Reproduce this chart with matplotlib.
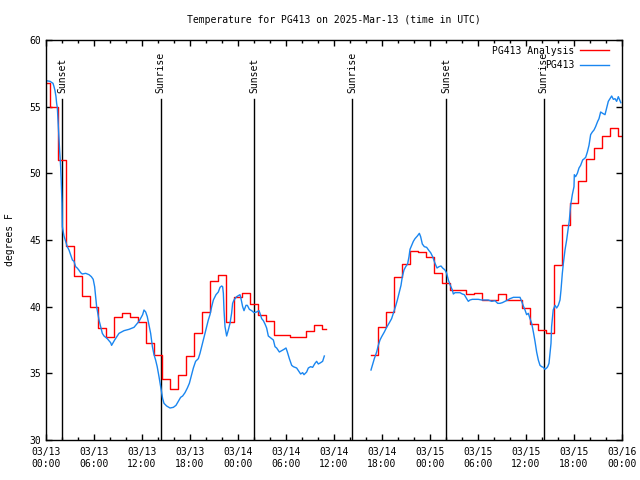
import matplotlib
matplotlib.use("Agg")
import matplotlib.pyplot as plt
import numpy as np

nan = np.nan

# ---- data (hours since 2025-03-13 00:00 UTC) ----
red_hours = list(range(0, 36)) + [35.1, 40.2] + list(range(41, 73))
red_temps = [56.75, 55.0, 51.0, 44.55, 42.3, 40.8, 40.0, 38.4, 37.75, 39.2,
             39.5, 39.2, 38.85, 37.25, 36.35, 34.55, 33.8, 34.85, 36.3, 38.0,
             39.6, 41.9, 42.35, 38.85, 40.7, 41.0, 40.2, 39.4, 38.9, 37.85,
             37.9, 37.75, 37.75, 38.2, 38.6, 38.35,
             nan, nan,
             36.4, 38.45, 39.6, 42.2, 43.2, 44.15, 44.1, 43.7, 42.55, 41.8,
             41.25, 41.25, 40.95, 41.05, 40.5, 40.5, 40.95, 40.5, 40.5, 39.9,
             38.7, 38.25, 38.0, 43.1, 46.1, 47.8, 49.4, 51.05, 51.9, 52.8,
             53.4, 52.8]

obs_hours = [0.0, 0.5, 0.875, 1.0, 1.125, 1.25, 1.33, 1.42, 1.5, 1.625,
             1.7, 1.83, 1.9, 2.0, 2.04, 2.25, 2.46, 2.66, 2.875, 3.08,
             3.3, 3.5, 3.7, 3.9, 4.1, 4.33, 4.54, 4.96, 5.375, 5.67,
             5.9, 6.08, 6.2, 6.33, 6.5, 6.625, 6.83, 7.04, 7.25, 7.66,
             8.08, 8.2, 8.58, 9.125, 9.75, 10.375, 11.0, 11.625, 12.08, 12.25,
             12.46, 12.66, 12.875, 13.08, 13.3, 13.5, 13.7, 13.9, 14.125, 14.33,
             14.45, 14.58, 14.75, 15.08, 15.5, 15.92, 16.25, 16.54, 16.83, 17.08,
             17.375, 17.67, 17.92, 18.2, 18.42, 18.7, 19.04, 19.25, 19.46, 19.67,
             19.875, 20.08, 20.29, 20.5, 20.71, 20.92, 21.25, 21.54, 21.75, 21.96,
             22.08, 22.17, 22.25, 22.375, 22.58, 22.79, 23.0, 23.2, 23.33, 23.5,
             23.83, 24.25, 24.375, 24.58, 24.75, 25.0, 25.17, 25.42, 25.71, 26.0,
             26.33, 26.625, 26.75, 26.96, 27.17, 27.375, 27.58, 27.79, 28.0, 28.42,
             28.625, 28.83, 29.17, 29.46, 29.75, 30.0, 30.17, 30.42, 30.71, 30.92,
             31.33, 31.67, 31.83, 32.08, 32.25, 32.58, 32.79, 33.08, 33.33, 33.625,
             33.83, 34.04, 34.33, 34.58, 34.79,
             37.0,
             40.625, 40.79, 41.04, 41.33, 41.54, 41.75, 41.96, 42.29, 42.58, 42.875,
             43.2, 43.42, 43.71, 43.92, 44.125, 44.375, 44.54, 44.75, 44.96, 45.2,
             45.375, 45.5, 45.71, 45.92, 46.125, 46.42, 46.67, 46.83, 47.04, 47.29,
             47.58, 47.875, 48.08, 48.33, 48.625, 48.875, 49.125, 49.375, 49.58, 49.875,
             50.08, 50.29, 50.54, 50.79, 50.92, 51.125, 51.75, 52.04, 52.29, 52.58,
             52.79, 53.0, 53.29, 54.04, 54.46, 55.29, 55.71, 56.125, 56.46, 56.75,
             57.04, 57.375, 57.71, 58.0, 58.42, 58.96, 59.25, 59.46, 59.67, 59.875,
             60.08, 60.29, 60.5, 60.71, 60.92, 61.125, 61.33, 61.54, 61.75, 61.96,
             62.17, 62.375, 62.58, 62.71, 62.875, 63.0, 63.125, 63.2, 63.4, 63.625,
             63.83, 64.04, 64.25, 64.375, 64.54, 64.67, 64.875, 65.08, 65.29, 65.42,
             65.58, 65.79, 66.0, 66.04, 66.2, 66.42, 66.625, 66.83, 67.08, 67.29,
             67.46, 67.67, 67.875, 68.08, 68.29, 68.5, 68.7, 68.96, 69.125, 69.33,
             69.58, 69.875, 70.08, 70.29, 70.5, 70.71, 70.92, 71.125, 71.33, 71.54,
             71.75, 71.85]
obs_temps = [56.95, 56.9, 56.75, 56.5, 56.2, 55.75, 55.25, 54.9, 54.0, 52.75,
             51.75, 50.5, 49.5, 47.75, 46.0, 45.3, 44.9, 44.5, 44.25, 43.9,
             43.5, 43.4, 43.0, 42.9, 42.75, 42.55, 42.45, 42.5, 42.4, 42.25,
             42.05, 41.5, 40.75, 40.0, 39.4, 39.0, 38.5, 38.0, 37.8, 37.6,
             37.3, 37.1, 37.5, 38.0, 38.2, 38.3, 38.45, 38.9, 39.4, 39.75,
             39.6, 39.25, 38.6, 38.0, 37.0, 36.4, 36.0, 35.5, 34.75, 34.0,
             33.6, 33.1, 32.75, 32.55, 32.4, 32.45, 32.6, 32.9, 33.2, 33.3,
             33.55, 33.9, 34.25, 34.9, 35.4, 35.9, 36.1, 36.5, 37.0, 37.5,
             38.0, 38.5, 39.0, 39.4, 40.0, 40.5, 40.9, 41.1, 41.45, 41.55,
             41.5, 41.0, 39.75, 38.5, 37.8, 38.25, 38.75, 39.5, 40.25, 40.5,
             40.75, 40.9, 40.6, 40.0, 39.7, 40.1, 40.1, 39.8, 39.7, 39.55,
             39.6, 39.7, 39.5, 39.1, 38.95, 38.7, 38.4, 37.8, 37.7, 37.5,
             37.0, 36.9, 36.6, 36.7, 36.8, 36.9, 36.6, 36.1, 35.6, 35.5,
             35.4, 35.1, 34.95, 35.05, 34.9, 35.1, 35.4, 35.5, 35.45, 35.75,
             35.9, 35.7, 35.8, 35.9, 36.3,
             nan,
             35.25, 35.6, 36.1, 36.6, 37.1, 37.5, 37.75, 38.1, 38.45, 38.75,
             39.1, 39.5, 40.05, 40.5, 41.0, 41.6, 42.25, 42.75, 43.0, 43.2,
             43.75, 44.3, 44.6, 44.9, 45.1, 45.3, 45.5, 45.25, 44.7, 44.5,
             44.45, 44.2, 44.05, 43.75, 43.25, 42.9, 43.0, 43.05, 42.9, 42.75,
             42.5, 42.0, 41.6, 41.25, 40.95, 41.05, 41.05, 40.95, 40.9, 40.6,
             40.4, 40.5, 40.55, 40.55, 40.5, 40.5, 40.4, 40.45, 40.25, 40.25,
             40.3, 40.4, 40.5, 40.6, 40.7, 40.7, 40.7, 40.4, 40.05, 39.75,
             39.4, 39.5, 39.1, 38.75, 38.1, 37.4, 36.6, 36.0, 35.6, 35.5,
             35.45, 35.3, 35.4, 35.5, 35.75, 36.5, 37.25, 38.5, 39.75, 40.1,
             39.9, 40.1, 40.5, 41.25, 42.5, 43.25, 44.25, 45.0, 45.9, 46.5,
             47.6, 48.4, 49.0, 49.9, 49.75, 50.0, 50.4, 50.6, 51.0, 51.1,
             51.2, 51.6, 52.1, 52.9, 53.1, 53.25, 53.5, 53.9, 54.1, 54.6,
             54.5, 54.4, 54.9, 55.4, 55.6, 55.8, 55.55, 55.6, 55.4, 55.75,
             55.45, 55.3]

sun_hours = [2.04, 14.33, 26.04, 38.27, 50.04, 62.21]
sun_labels = ["Sunset", "Sunrise", "Sunset", "Sunrise", "Sunset", "Sunrise"]

xtick_hours = list(range(0, 73, 6))
xtick_labels = ["03/13\n00:00", "03/13\n06:00", "03/13\n12:00", "03/13\n18:00",
                "03/14\n00:00", "03/14\n06:00", "03/14\n12:00", "03/14\n18:00",
                "03/15\n00:00", "03/15\n06:00", "03/15\n12:00", "03/15\n18:00",
                "03/16\n00:00"]
ytick_vals = [30, 35, 40, 45, 50, 55, 60]

title = "Temperature for PG413 on 2025-Mar-13 (time in UTC)"

# ---- plot ----
FONT = "DejaVu Sans Mono"
FS = 7
plt.rcParams["font.family"] = [FONT, "DejaVu Sans"]

fig = plt.figure(figsize=(6.4, 4.8), dpi=100)
ax = fig.add_axes([46/640, 40/480, 576/640, 400/480])

for h, lab in zip(sun_hours, sun_labels):
    ax.axvline(h, ymin=0, ymax=0.8525, color="black", lw=1.0, zorder=1)
    ax.text(h, 0.868, lab, rotation=90, ha="center", va="bottom",
            transform=ax.get_xaxis_transform(), fontsize=FS, zorder=3)

ax.plot(red_hours, red_temps, drawstyle="steps-mid", color="#ff0000",
        lw=1.0, label="PG413 Analysis", zorder=2)
ax.plot(obs_hours, obs_temps, color="#1a86f0", lw=1.0, label="PG413", zorder=2)

ax.set_xlim(0, 72)
ax.set_ylim(30, 60)
ax.set_xticks(xtick_hours)
ax.set_xticklabels(xtick_labels, fontsize=FS)
ax.set_xticks(list(range(0, 73, 2)), minor=True)
ax.set_yticks(ytick_vals)
ax.set_yticklabels([str(v) for v in ytick_vals], fontsize=FS)
ax.tick_params(which="both", direction="in", top=True, right=True)
ax.tick_params(which="major", length=4, width=1)
ax.tick_params(which="minor", length=2.2, width=1)
ax.tick_params(axis="x", pad=5)
for s in ax.spines.values():
    s.set_linewidth(1.0)

ax.set_ylabel("degrees F", fontsize=FS, labelpad=10)
ax.set_title(title, fontsize=FS, pad=12)

leg = ax.legend(loc="upper right", bbox_to_anchor=(1 - 7/576, 1.0),
                frameon=False, fontsize=FS,
                markerfirst=False, handlelength=3.0, handletextpad=0.6,
                borderaxespad=0.2, labelspacing=0.45)

fig.savefig("out.png", dpi=100)
